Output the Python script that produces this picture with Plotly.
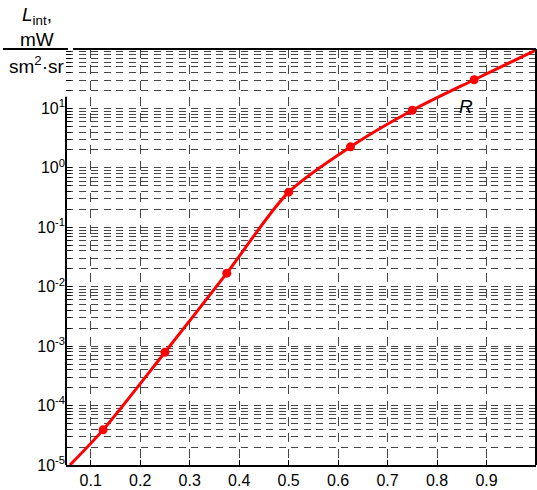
import plotly.graph_objects as go

# Measured points of the R curve
x_pts = [0.125, 0.25, 0.375, 0.5, 0.625, 0.75, 0.875]
l_pts = [3.9e-5, 7.9e-4, 1.69e-2, 0.39, 2.26, 9.3, 30.4]

# Smooth curve through the points, running out to the frame
x_curve = [0.058, 0.125, 0.25, 0.375, 0.5, 0.625, 0.75, 0.875, 1.0]
l_curve = [1.0e-5, 3.9e-5, 7.9e-4, 1.69e-2, 0.39, 2.26, 9.3, 30.4, 96.0]

x_ticks = [0.1, 0.2, 0.3, 0.4, 0.5, 0.6, 0.7, 0.8, 0.9]
x_ticklabels = ["0.1", "0.2", "0.3", "0.4", "0.5", "0.6", "0.7", "0.8", "0.9"]
y_ticks = [1e-5, 1e-4, 1e-3, 1e-2, 1e-1, 1e0, 1e1]
y_ticklabels = ["10<sup>-5</sup>", "10<sup>-4</sup>", "10<sup>-3</sup>",
                "10<sup>-2</sup>", "10<sup>-1</sup>", "10<sup>0</sup>",
                "10<sup>1</sup>"]

FONT = "Liberation Sans, Arial, sans-serif"
GRID = "#474747"

W, H = 537, 490
L, R, T, B = 66, 1, 49, 22
PW, PH = W - L - R, H - T - B


def px(xp):
    return (xp - L) / PW


def py(yp):
    return (H - B - yp) / PH


fig = go.Figure()
fig.add_trace(go.Scatter(
    x=x_curve, y=l_curve, mode="lines",
    line=dict(color="#ff0000", width=3, shape="spline", smoothing=0.8),
    hoverinfo="skip"))
fig.add_trace(go.Scatter(
    x=x_pts, y=l_pts, mode="markers",
    marker=dict(color="#ff0000", size=9, symbol="circle"),
    name="R"))

fig.update_layout(
    width=W, height=H,
    margin=dict(l=L, r=R, t=T, b=B),
    paper_bgcolor="white", plot_bgcolor="white",
    showlegend=False,
    font=dict(family=FONT, size=16, color="black"),
    xaxis=dict(
        range=[0.05, 1.0], tickmode="array",
        tickvals=x_ticks, ticktext=x_ticklabels,
        showgrid=True, gridcolor=GRID, gridwidth=1, griddash="9px,7px",
        showline=True, linecolor="black", linewidth=2,
        ticks="inside", ticklen=5, tickcolor="black",
        zeroline=False, tickfont=dict(size=16),
    ),
    yaxis=dict(
        type="log", range=[-5, 2], tickmode="array",
        tickvals=y_ticks, ticktext=y_ticklabels,
        showgrid=True, gridcolor=GRID, gridwidth=1, griddash="7px,5.5px",
        showline=False,
        ticks="inside", ticklen=6, tickcolor="black",
        zeroline=False, tickfont=dict(size=16),
        minor=dict(dtick="D1", showgrid=True, gridcolor=GRID, gridwidth=1,
                   griddash="7px,5.5px", ticks="inside", ticklen=5,
                   tickcolor="black"),
    ),
)

# Frame: partial left edge, top and right edges
frame = [
    dict(x0=0, x1=0, y0=0, y1=py(97)),
    dict(x0=px(73), x1=1, y0=1, y1=1),
    dict(x0=1, x1=1, y0=0, y1=1),
    # fraction bar of the unit label
    dict(x0=px(3), x1=px(68), y0=py(49), y1=py(49)),
]
for s in frame:
    fig.add_shape(type="line", xref="paper", yref="paper",
                  line=dict(color="black", width=2), **s)

# Axis title, written as a stacked fraction
title_parts = [
    ("<i>L</i><sub>int</sub>,", 37, 16),
    ("mW", 37, 39),
    ("sm<sup>2</sup>·sr", 37, 65),
]
for text, xp, yp in title_parts:
    fig.add_annotation(text=text, xref="paper", yref="paper",
                       x=px(xp), y=py(yp), xanchor="center", yanchor="middle",
                       showarrow=False, font=dict(size=19, family=FONT))

fig.add_annotation(text="<i>R</i>", xref="paper", yref="paper",
                   x=px(466), y=py(107), xanchor="center", yanchor="middle",
                   showarrow=False, font=dict(size=19, family=FONT))

fig.write_html("out.html")
